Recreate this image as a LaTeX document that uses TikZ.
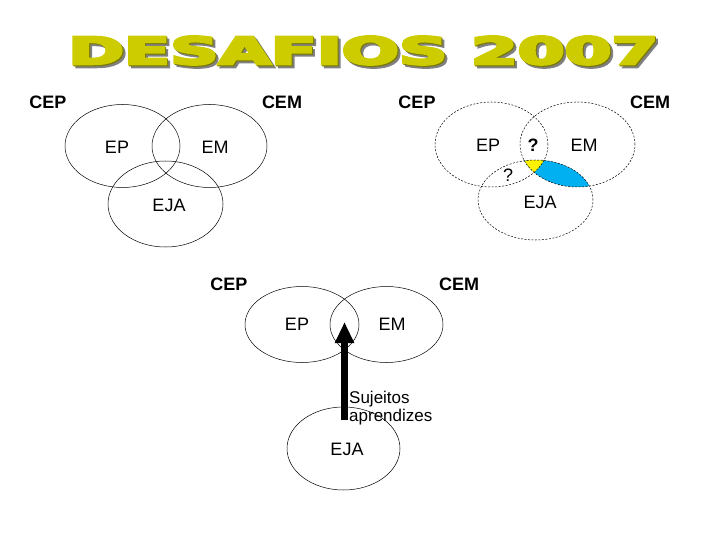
\documentclass[tikz,border=0pt]{standalone}
\usepackage{fontspec}
\setmainfont{Liberation Sans}
\newfontfamily\titlefont{DejaVu Sans}
\usepackage{graphicx}
\usetikzlibrary{arrows.meta,shapes.geometric}

\definecolor{titleyel}{RGB}{204,204,0}
\definecolor{titleline}{RGB}{120,120,0}
\definecolor{cyanblue}{RGB}{0,176,240}
\newcommand{\titletext}{\resizebox{590pt}{28pt}{\special{pdf:literal direct 2 Tr 0.6 w}\titlefont\bfseries DESAFIOS 2007\special{pdf:literal direct 0 Tr}}}

\begin{document}
\begin{tikzpicture}[x=1pt, y=-1pt,
  ov/.style={ellipse, draw=black, line width=0.5pt, minimum width=115pt, minimum height=83pt, inner sep=0pt},
  ovd/.style={ov, dash pattern=on 2pt off 1.5pt},
  lb/.style={font=\fontsize{18}{20}\selectfont, inner sep=0pt},
  cl/.style={font=\bfseries\fontsize{18}{20}\selectfont, inner sep=0pt},
  tt/.style={inner sep=0pt}]
\useasboundingbox (0,0) rectangle (720,540);

% title, with its shadow inside the same node
\node[tt, anchor=north west] (tit) at (68,36) {%
  \makebox[0pt][l]{\raisebox{-3pt}[0pt][0pt]{\hspace{3pt}\color{gray}\titletext}}%
  \makebox[0pt][l]{\raisebox{-1pt}[0pt][0pt]{\hspace{1pt}\color{titleline}\titletext}}%
  \textcolor{titleyel}{\titletext}};

% top left
\node[cl] (cep1) at (48,102) {CEP};
\node[cl] (cem1) at (282,102) {CEM};
\node[ov] (ep1) at (122.5,146) {};
\node[ov] (em1) at (209.5,146) {};
\node[ov, minimum height=86pt] (eja1) at (165.5,204) {};
\node[lb] (tep1) at (117,147) {EP};
\node[lb] (tem1) at (215,147) {EM};
\node[lb] (teja1) at (169,205) {EJA};

% top right
\begin{scope}
  \clip (577.5,144.5) ellipse [x radius=57.5pt, y radius=42.5pt];
  \fill[cyanblue] (535.5,200) ellipse [x radius=57.5pt, y radius=40pt];
\end{scope}
\begin{scope}
  \clip (577.5,144.5) ellipse [x radius=57.5pt, y radius=42.5pt];
  \clip (491.5,144.5) ellipse [x radius=56.5pt, y radius=42.5pt];
  \fill[yellow] (535.5,200) ellipse [x radius=57.5pt, y radius=40pt];
\end{scope}
\node[cl] (cep2) at (417,102) {CEP};
\node[cl] (cem2) at (650,102) {CEM};
\node[ovd, minimum width=113pt, minimum height=85pt] (ep2) at (491.5,144.5) {};
\node[ovd, minimum height=85pt] (em2) at (577.5,144.5) {};
\node[ovd, minimum height=80pt] (eja2) at (535.5,200) {};
\node[lb] (tep2) at (488,145) {EP};
\node[lb] (tem2) at (584,145) {EM};
\node[lb] (teja2) at (540,202) {EJA};
\node[cl] (q1) at (533,145) {?};
\node[lb] (q2) at (508,175) {?};

% bottom
\node[cl] (cep3) at (229,284) {CEP};
\node[cl] (cem3) at (459,284) {CEM};
\node[ov, minimum width=114pt, minimum height=76pt] (ep3) at (302,324.5) {};
\node[ov, minimum width=113pt, minimum height=76pt] (em3) at (386.5,324.5) {};
\node[ov, minimum width=113pt, minimum height=83pt] (eja3) at (343.5,448.5) {};
\node[lb] (tep3) at (297,324) {EP};
\node[lb] (tem3) at (392,324) {EM};
\node[lb] (teja3) at (347,449) {EJA};
\coordinate (arrS) at (344.5,420);
\coordinate (arrT) at (344.5,322);
\draw[line width=7pt, -{Triangle[width=18pt,length=21pt]}] (arrS) -- (arrT);
\node[tt, anchor=west, align=left, font=\fontsize{17}{18}\selectfont] (suj) at (349,408) {Sujeitos\\aprendizes};
\end{tikzpicture}
\end{document}
